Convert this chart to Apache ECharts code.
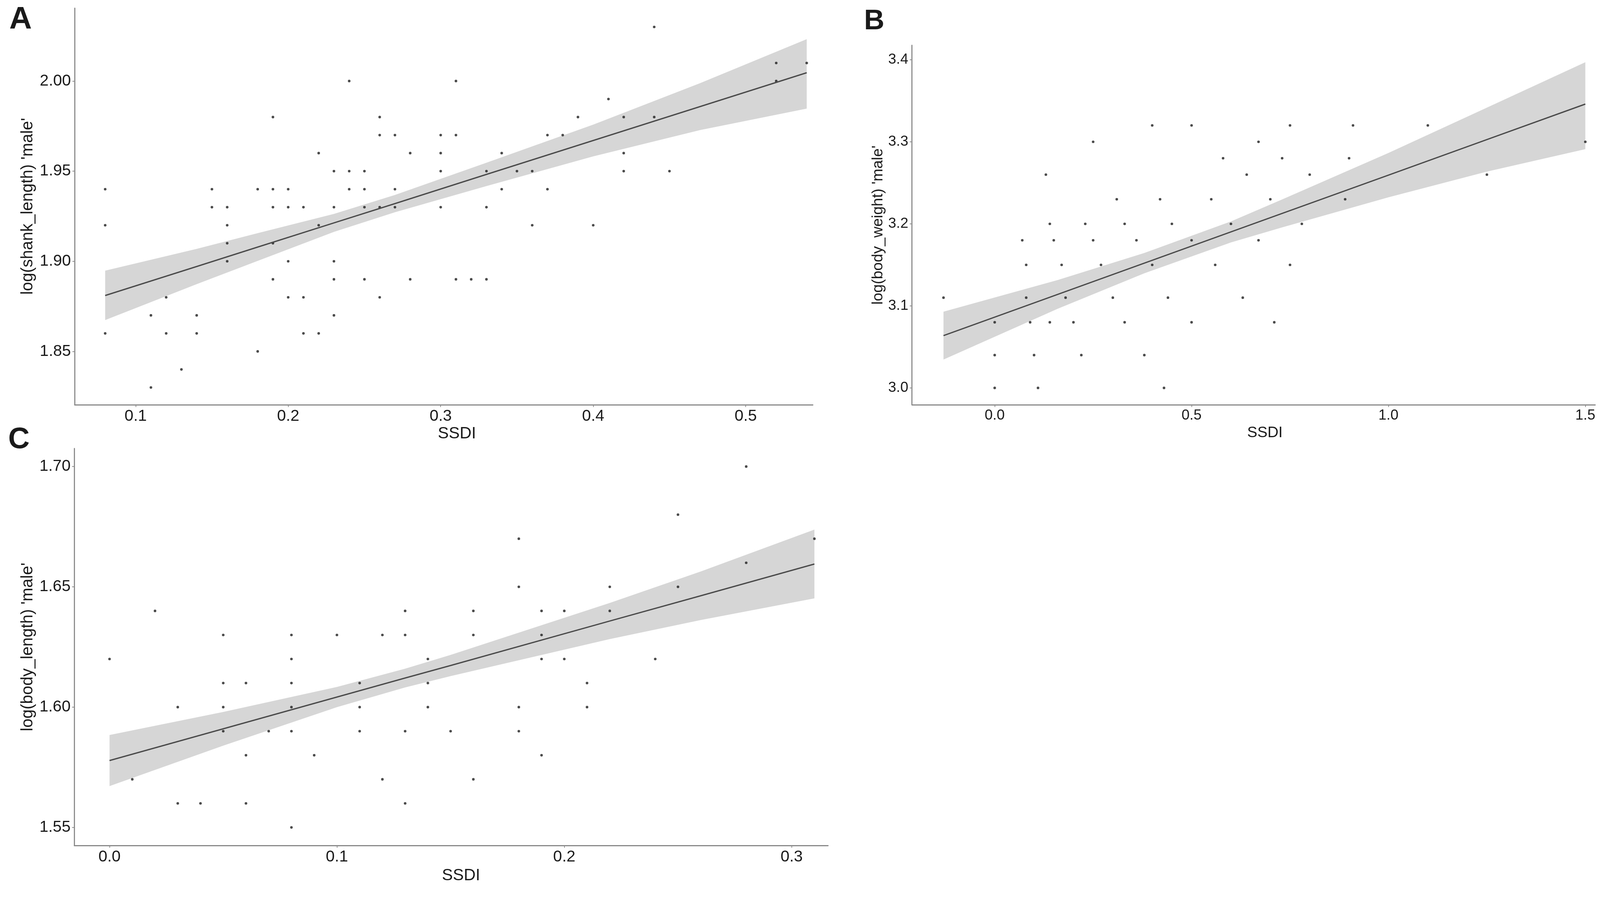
<!DOCTYPE html>
<html>
<head>
<meta charset="utf-8">
<script src="https://cdn.jsdelivr.net/npm/echarts@6/dist/echarts.min.js"></script>
<style>
  html, body { margin: 0; padding: 0; background: #fff; overflow: hidden; }
  #chart { width: 100vw; height: 100vh; }
</style>
</head>
<body>
<div id="chart"></div>
<script>
// ---- panel A: SSDI vs log(shank_length) ----
var aX = [0.08,0.08,0.08, 0.11,0.11, 0.12,0.12, 0.13, 0.14,0.14, 0.15,0.15,
  0.16,0.16,0.16,0.16, 0.18,0.18, 0.19,0.19,0.19,0.19,0.19, 0.20,0.20,0.20,0.20,
  0.21,0.21,0.21, 0.22,0.22,0.22, 0.23,0.23,0.23,0.23,0.23, 0.24,0.24,0.24,
  0.25,0.25,0.25,0.25, 0.26,0.26,0.26,0.26, 0.27,0.27,0.27, 0.28,0.28,
  0.30,0.30,0.30,0.30, 0.31,0.31,0.31, 0.32, 0.33,0.33,0.33, 0.34,0.34, 0.35,
  0.36,0.36, 0.37,0.37, 0.38, 0.39, 0.40, 0.41, 0.42,0.42,0.42, 0.44,0.44, 0.45,
  0.52,0.52, 0.54];
var aY = [1.94,1.92,1.86, 1.87,1.83, 1.88,1.86, 1.84, 1.87,1.86, 1.94,1.93,
  1.93,1.92,1.91,1.90, 1.94,1.85, 1.98,1.94,1.93,1.91,1.89, 1.94,1.93,1.90,1.88,
  1.93,1.88,1.86, 1.96,1.92,1.86, 1.95,1.93,1.90,1.89,1.87, 2.00,1.95,1.94,
  1.95,1.94,1.93,1.89, 1.98,1.97,1.93,1.88, 1.97,1.94,1.93, 1.96,1.89,
  1.97,1.96,1.95,1.93, 2.00,1.97,1.89, 1.89, 1.95,1.93,1.89, 1.96,1.94, 1.95,
  1.95,1.92, 1.97,1.94, 1.97, 1.98, 1.92, 1.99, 1.98,1.96,1.95, 2.03,1.98, 1.95,
  2.01,2.00, 2.01];
// fitted line and confidence band
var aFitX   = [0.08, 0.14, 0.18, 0.23, 0.27, 0.33, 0.40, 0.47, 0.54];
var aFitY   = [1.8810, 1.8971, 1.9079, 1.9213, 1.9320, 1.9482, 1.9670, 1.9858, 2.0046];
var aFitLo  = [1.8674, 1.8873, 1.9002, 1.9163, 1.9272, 1.9417, 1.9582, 1.9728, 1.9847];
var aFitHi  = [1.8948, 1.9069, 1.9156, 1.9263, 1.9368, 1.9547, 1.9758, 1.9988, 2.0232];
var aXTicks = [0.1, 0.2, 0.3, 0.4, 0.5];
var aYTicks = [1.85, 1.90, 1.95, 2.00];

// ---- panel B: SSDI vs log(body_weight) ----
var bX = [-0.13, 0.00,0.00,0.00, 0.07, 0.08,0.08, 0.09, 0.10, 0.11, 0.13, 0.14,0.14,
  0.15, 0.17, 0.18, 0.20, 0.22, 0.23, 0.25,0.25, 0.27, 0.30, 0.31, 0.33,0.33, 0.36,
  0.38, 0.40,0.40, 0.42, 0.43, 0.44, 0.45, 0.50,0.50,0.50, 0.55, 0.56, 0.58, 0.60,
  0.63, 0.64, 0.67,0.67, 0.70, 0.71, 0.73, 0.75,0.75, 0.78, 0.80, 0.89, 0.90, 0.91,
  1.10, 1.25, 1.50];
var bY = [3.11, 3.08,3.04,3.00, 3.18, 3.15,3.11, 3.08, 3.04, 3.00, 3.26, 3.20,3.08,
  3.18, 3.15, 3.11, 3.08, 3.04, 3.20, 3.30,3.18, 3.15, 3.11, 3.23, 3.20,3.08, 3.18,
  3.04, 3.32,3.15, 3.23, 3.00, 3.11, 3.20, 3.32,3.18,3.08, 3.23, 3.15, 3.28, 3.20,
  3.11, 3.26, 3.30,3.18, 3.23, 3.08, 3.28, 3.32,3.15, 3.20, 3.26, 3.23, 3.28, 3.32,
  3.32, 3.26, 3.30];
var bFitX   = [-0.13, 0.16, 0.38, 0.60, 0.73, 1.00, 1.25, 1.50];
var bFitY   = [3.0638, 3.1140, 3.1521, 3.1902, 3.2127, 3.2594, 3.3027, 3.3460];
var bFitLo  = [3.0346, 3.0965, 3.1397, 3.1774, 3.1957, 3.2324, 3.2637, 3.2910];
var bFitHi  = [3.0930, 3.1315, 3.1645, 3.2030, 3.2297, 3.2864, 3.3417, 3.3970];
var bXTicks = [0.0, 0.5, 1.0, 1.5];
var bYTicks = [3.0, 3.1, 3.2, 3.3, 3.4];

// ---- panel C: SSDI vs log(body_length) ----
var cX = [0.00, 0.01, 0.02, 0.03,0.03, 0.04, 0.05,0.05,0.05,0.05, 0.06,0.06,0.06, 0.07,
  0.08,0.08,0.08,0.08,0.08,0.08, 0.09, 0.10, 0.11,0.11,0.11, 0.12,0.12,
  0.13,0.13,0.13,0.13, 0.14,0.14,0.14, 0.15, 0.16,0.16,0.16, 0.18,0.18,0.18,0.18,
  0.19,0.19,0.19,0.19, 0.20,0.20, 0.21,0.21, 0.22,0.22, 0.24, 0.25,0.25, 0.28,0.28, 0.31];
var cY = [1.62, 1.57, 1.64, 1.60,1.56, 1.56, 1.63,1.61,1.60,1.59, 1.61,1.58,1.56, 1.59,
  1.63,1.62,1.61,1.60,1.59,1.55, 1.58, 1.63, 1.61,1.60,1.59, 1.63,1.57,
  1.64,1.63,1.59,1.56, 1.62,1.61,1.60, 1.59, 1.64,1.63,1.57, 1.67,1.65,1.60,1.59,
  1.64,1.63,1.62,1.58, 1.64,1.62, 1.61,1.60, 1.65,1.64, 1.62, 1.68,1.65, 1.70,1.66, 1.67];
var cFitX   = [0.00, 0.05, 0.10, 0.13, 0.15, 0.22, 0.26, 0.31];
var cFitY   = [1.5778, 1.5910, 1.6042, 1.6121, 1.6173, 1.6358, 1.6463, 1.6595];
var cFitLo  = [1.5672, 1.5840, 1.6000, 1.6082, 1.6129, 1.6283, 1.6362, 1.6452];
var cFitHi  = [1.5884, 1.5980, 1.6084, 1.6160, 1.6217, 1.6433, 1.6564, 1.6738];
var cXTicks = [0.0, 0.1, 0.2, 0.3];
var cYTicks = [1.55, 1.60, 1.65, 1.70];

var FONT = 'Liberation Sans, Arial, sans-serif';
var TXT = '#1a1a1a';
var AXIS = '#8a8a8a';

var dom = document.getElementById('chart');
var chart = echarts.init(dom);
// layout was measured on a 4307 x 2301 canvas; scale it to whatever we get
var sx = chart.getWidth() / 4307;
var sy = chart.getHeight() / 2301;
var sf = Math.min(sx, sy);
function X(v) { return v * sx; }
function Y(v) { return v * sy; }
function F(v) { return Math.round(v * sf); }

function pairs(xs, ys) {
  return xs.map(function (x, i) { return [x, ys[i]]; });
}

function axisFor(idx, min, max, ticks, digits, size) {
  return {
    type: 'value', gridIndex: idx, min: min, max: max,
    splitLine: { show: false },
    axisLine: { show: true, onZero: false, lineStyle: { color: AXIS, width: 3 * sf } },
    axisTick: { show: true, length: 6 * sf, customValues: ticks, lineStyle: { color: AXIS, width: 2 * sf } },
    axisLabel: {
      customValues: ticks, margin: 10 * sf, color: TXT, fontSize: F(size), fontFamily: FONT,
      formatter: function (v) { return v.toFixed(digits); }
    }
  };
}

// grey confidence ribbon drawn as one polygon through the axis scales
function bandSeries(idx, xs, lo, hi) {
  return {
    type: 'custom', xAxisIndex: idx, yAxisIndex: idx, z: 1,
    silent: true,
    data: xs.map(function (x, i) { return [x, lo[i], hi[i]]; }),
    renderItem: function (params, api) {
      if (params.dataIndex !== 0) return null;
      var pts = [];
      for (var i = 0; i < xs.length; i++) pts.push(api.coord([xs[i], hi[i]]));
      for (var j = xs.length - 1; j >= 0; j--) pts.push(api.coord([xs[j], lo[j]]));
      return { type: 'polygon', shape: { points: pts }, style: { fill: '#d6d6d6' } };
    }
  };
}

function fitSeries(idx, xs, ys) {
  return {
    type: 'line', xAxisIndex: idx, yAxisIndex: idx, z: 3,
    data: pairs(xs, ys), symbol: 'none', silent: true,
    lineStyle: { color: '#4a4a4a', width: 3.5 * sf }
  };
}

function pointSeries(idx, xs, ys) {
  return {
    type: 'scatter', xAxisIndex: idx, yAxisIndex: idx, z: 2,
    data: pairs(xs, ys), symbol: 'circle', symbolSize: 7 * sf,
    itemStyle: { color: '#1e1e1e' }
  };
}

function label(text, x, y, size, opts) {
  opts = opts || {};
  return {
    type: 'text', x: X(x), y: Y(y), rotation: opts.rotation || 0,
    style: {
      text: text, fill: TXT, font: (opts.bold ? 'bold ' : '') + F(size) + 'px ' + FONT,
      align: opts.align || 'center', verticalAlign: 'middle'
    }
  };
}

chart.setOption({
  backgroundColor: '#ffffff',
  animation: false,
  grid: [
    { left: X(201), top: Y(21), width: X(1987), height: Y(1015) },
    { left: X(2455), top: Y(116), width: X(1839), height: Y(920) },
    { left: X(200), top: Y(1148), width: X(2029), height: Y(1016) }
  ],
  xAxis: [
    axisFor(0, 0.060, 0.544, aXTicks, 1, 43),
    axisFor(1, -0.21, 1.525, bXTicks, 1, 39),
    axisFor(2, -0.0155, 0.316, cXTicks, 1, 43)
  ],
  yAxis: [
    axisFor(0, 1.8204, 2.0404, aYTicks, 2, 43),
    axisFor(1, 2.9795, 3.4176, bYTicks, 1, 39),
    axisFor(2, 1.5425, 1.7075, cYTicks, 2, 43)
  ],
  series: [
    bandSeries(0, aFitX, aFitLo, aFitHi), pointSeries(0, aX, aY), fitSeries(0, aFitX, aFitY),
    bandSeries(1, bFitX, bFitLo, bFitHi), pointSeries(1, bX, bY), fitSeries(1, bFitX, bFitY),
    bandSeries(2, cFitX, cFitLo, cFitHi), pointSeries(2, cX, cY), fitSeries(2, cFitX, cFitY)
  ],
  graphic: [
    label('A', 25, 51, 84, { bold: true, align: 'left' }),
    label('B', 2326, 55, 76, { bold: true, align: 'left' }),
    label('C', 22, 1126, 80, { bold: true, align: 'left' }),
    label('SSDI', 1230, 1110, 44),
    label('SSDI', 3405, 1108, 41),
    label('SSDI', 1241, 2241, 44),
    label("log(shank_length) 'male'", 75, 528, 44, { rotation: Math.PI / 2 }),
    label("log(body_weight) 'male'", 2364, 576, 41, { rotation: Math.PI / 2 }),
    label("log(body_length) 'male'", 75, 1656, 44, { rotation: Math.PI / 2 })
  ]
});
</script>
</body>
</html>
